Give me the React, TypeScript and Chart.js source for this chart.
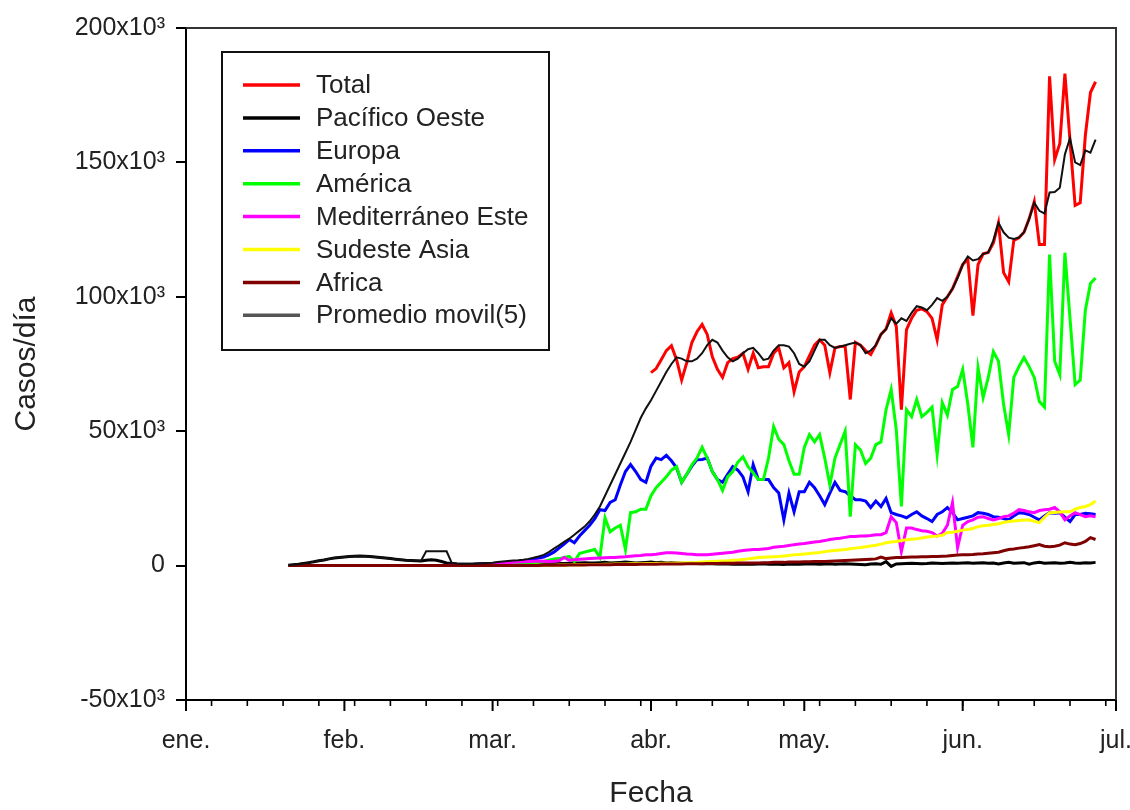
import { useEffect, useRef } from "react";
import { Chart, registerables } from "chart.js";

Chart.register(...registerables);

const FONT = "'Liberation Sans', Arial, Helvetica, sans-serif";

// Days counted from 1 ene. 2020 (day 0)
const START_DAY = 20; // 21 ene. 2020
const TOTAL_START_DAY = 91; // 1 abr. 2020

const monthLabels = ["ene.", "feb.", "mar.", "abr.", "may.", "jun.", "jul."];
const monthStartDays = [0, 31, 60, 91, 121, 152, 182];
const firstWeekTick = 5; // Monday 6 ene.
const yTickValues = [-50000, 0, 50000, 100000, 150000, 200000];

// Values in thousands of cases per day
const total = [
  71.8, 73.3, 76.6, 80, 81.8, 76.6, 69, 75.5, 83,
  87, 89.7, 86, 77.7, 73, 70, 75.5, 77, 77.5, 79,
  73, 79, 73.6, 74, 74, 79, 81, 73.6, 75.5, 64.7,
  72, 74, 78, 82, 84, 82, 71.8, 81, 81.5, 81.5,
  61.8, 83, 82, 80, 78.5, 82, 86, 88, 94, 89,
  58, 87.8, 92, 95, 95.5, 94.5, 92, 84, 97, 100,
  103, 107.5, 112, 114, 93, 112, 116, 116.5, 120, 127.5,
  109, 105.6, 121, 122, 124, 129, 135.4, 119.5, 119.5, 182,
  151, 157, 183, 158, 134, 135, 160, 176, 180,
];

const pacificoOeste = [
  0.1, 0.3, 0.5, 0.8, 1.1, 1.4, 1.8, 2.1, 2.5, 2.8,
  3.0, 3.2, 3.4, 3.5, 3.6, 3.5, 3.4, 3.2, 3.0, 2.8,
  2.6, 2.4, 2.2, 2.0, 1.9, 1.8, 1.7, 2.0, 2.2, 2.0,
  1.5, 1.0, 0.8, 0.6, 0.5, 0.5, 0.5, 0.6, 0.7, 0.8,
  0.8, 0.9, 0.8, 0.7, 0.6, 0.6, 0.5, 0.5, 0.5, 0.6,
  0.6, 0.7, 0.7, 0.8, 0.8, 0.9, 1.0, 1.0, 1.1, 1.0,
  1.0, 1.1, 1.2, 1.0, 1.1, 1.2, 1.3, 1.2, 1.0, 1.1,
  1.2, 1.3, 1.1, 1.2, 1.0, 1.1, 1.0, 0.9, 0.8, 0.9,
  0.8, 0.7, 0.8, 0.7, 0.6, 0.7, 0.6, 0.5, 0.6, 0.5,
  0.6, 0.5, 0.6, 0.7, 0.5, 0.6, 0.5, 0.4, 0.6, 0.5,
  0.5, 0.6, 0.7, 0.6, 0.5, 0.6, 0.7, 0.5, 0.6, 0.7,
  0.6, 0.5, 0.4, 0.3, 0.6, 0.7, 0.5, 1.5, -0.3, 0.6,
  0.7, 0.8, 0.9, 0.8, 0.7, 0.8, 1.0, 0.9, 0.8, 0.9,
  1.0, 0.9, 1.0, 1.1, 0.9, 1.0, 1.1, 0.9, 1.0, 0.6,
  1.0, 1.2, 0.9, 1.0, 1.1, 0.5, 1.0, 1.2, 0.9, 1.0,
  1.1, 0.9, 1.0, 1.2, 1.0, 0.9, 1.1, 1.0, 1.2,
];

const europa = [
  0, 0, 0, 0, 0, 0, 0, 0, 0, 0,
  0, 0, 0, 0, 0, 0, 0, 0, 0, 0,
  0, 0, 0, 0, 0, 0, 0, 0, 0, 0,
  0, 0.05, 0.1, 0.1, 0.2, 0.3, 0.4, 0.5, 0.6, 0.8,
  0.5, 0.6, 0.8, 1.0, 1.2, 1.4, 1.7, 2.0, 2.4, 2.8,
  3.2, 4.0, 5.0, 6.5, 8.0, 9.7, 8.5, 11, 13, 15,
  17.5, 20.8, 20.5, 23.5, 24.5, 30, 35, 37.6, 35, 32,
  31, 37, 40, 39.4, 41, 39, 36.4, 31, 34, 37,
  39.4, 39.5, 40, 35, 32, 31, 34, 36.8, 35.5, 33,
  27.5, 37.6, 32, 32, 32, 29, 27, 17, 27, 20,
  27.5, 27.5, 31, 29, 26, 22.7, 27, 31, 28, 27.5,
  26, 24.5, 24.5, 24, 21.6, 24, 22, 25, 19.7, 19,
  18.5, 17.8, 19, 20, 18.5, 17.5, 16.4, 19, 20, 21.6,
  19.7, 17, 17.5, 18, 18.5, 19.7, 19.5, 19, 18.2, 18,
  17.5, 17, 18.5, 19.7, 19.5, 19, 18, 17, 18.5, 19.7,
  19.5, 19.7, 18, 16.4, 19, 19, 19.5, 19.3, 19,
];

const america = [
  0, 0, 0, 0, 0, 0, 0, 0, 0, 0,
  0, 0, 0, 0, 0, 0, 0, 0, 0, 0,
  0, 0, 0, 0, 0, 0, 0, 0, 0, 0,
  0, 0, 0, 0, 0, 0.05, 0.05, 0.1, 0.1, 0.1,
  0.1, 0.2, 0.2, 0.3, 0.4, 0.5, 0.6, 0.8, 1.0, 1.2,
  1.5, 2.0, 2.5, 2.6, 3.0, 3.4, 1.5, 4.5, 5.0, 5.5,
  6.0, 3.0, 17.8, 12.6, 14, 15, 6, 19.7, 20, 21,
  21, 26, 29, 31, 33, 35.5, 36.8, 31, 34, 37.5,
  40, 44, 40, 35, 32, 28, 33, 35, 38.5, 40.5,
  36.8, 34.5, 32, 32, 40, 51.7, 47, 45, 39, 34,
  34, 44, 48.7, 46, 48.7, 40, 30, 40, 45, 50,
  18.2, 45, 43, 38, 40, 45, 46, 58, 65.5, 50.6,
  22, 58, 55.4, 61.8, 55.4, 57, 59, 41.3, 60.6, 56,
  65.5, 66.6, 73, 60, 44, 73.6, 62.5, 70, 79.6, 76,
  60, 48.7, 70, 74, 77.4, 74, 70, 61, 59, 115.7,
  76, 71, 116.4, 92, 67.3, 69, 95, 105, 107,
];

const mediterraneoEste = [
  0, 0, 0, 0, 0, 0, 0, 0, 0, 0,
  0, 0, 0, 0, 0, 0, 0, 0, 0, 0,
  0, 0, 0, 0, 0, 0, 0, 0, 0, 0,
  0, 0.05, 0.1, 0.15, 0.2, 0.25, 0.3, 0.4, 0.5, 0.6,
  0.8, 0.9, 1.0, 1.1, 1.2, 1.3, 1.4, 1.5, 1.6, 1.7,
  1.6, 1.5, 1.6, 1.8, 3.0, 2.0, 2.2, 2.4, 2.5, 2.6,
  2.7, 2.8, 2.9, 3.0, 3.0, 3.2, 3.3, 3.5, 3.7, 3.8,
  4.0, 4.0, 4.2, 4.5, 4.8, 4.8, 4.7, 4.5, 4.3, 4.2,
  4.0, 4.0, 4.0, 4.2, 4.4, 4.6, 4.8, 5.0, 5.3, 5.6,
  5.8, 6.0, 6.0, 6.2, 6.4, 6.8, 7.0, 7.2, 7.5, 7.8,
  8.0, 8.2, 8.5, 8.8, 9.0, 9.3, 9.7, 10.0, 10.2, 10.5,
  10.8, 10.8, 11.0, 11.0, 11.2, 11.5, 11.5, 12.3, 18.2, 16,
  5.2, 14, 14, 13.4, 13, 12.8, 12.3, 11, 12, 15,
  23.4, 6.7, 15, 16.4, 17, 18, 18.2, 17.5, 17, 17.5,
  18.2, 18.5, 19.5, 20.8, 20.5, 20, 19.7, 20.5, 20.8, 21,
  21.6, 20, 17, 18.5, 19.7, 19, 18.2, 18.5, 18.2,
];

const sudesteAsia = [
  0, 0, 0, 0, 0, 0, 0, 0, 0, 0,
  0, 0, 0, 0, 0, 0, 0, 0, 0, 0,
  0, 0, 0, 0, 0, 0, 0, 0, 0, 0,
  0, 0, 0, 0, 0, 0, 0, 0, 0, 0,
  0, 0, 0, 0, 0, 0, 0.05, 0.05, 0.1, 0.1,
  0.1, 0.15, 0.15, 0.2, 0.2, 0.25, 0.3, 0.3, 0.35, 0.4,
  0.4, 0.45, 0.5, 0.5, 0.55, 0.6, 0.6, 0.65, 0.7, 0.7,
  0.75, 0.8, 0.8, 0.85, 0.9, 0.9, 1.0, 1.0, 1.1, 1.1,
  1.2, 1.3, 1.4, 1.5, 1.6, 1.7, 1.8, 2.0, 2.1, 2.3,
  2.5, 2.7, 3.0, 3.1, 3.2, 3.3, 3.4, 3.6, 3.8, 4.0,
  4.1, 4.3, 4.5, 4.7, 4.9, 5.2, 5.4, 5.6, 5.8, 6.0,
  6.3, 6.5, 6.7, 7.0, 7.3, 7.6, 8.0, 8.5, 8.8, 9.0,
  9.3, 9.6, 9.8, 10.0, 10.3, 10.6, 10.8, 11.0, 11.3, 12.3,
  12.4, 12.8, 13.2, 13.4, 13.8, 14.5, 14.8, 15.0, 15.3, 15.6,
  16.0, 16.4, 16.6, 16.8, 17.0, 17.0, 16.5, 16.0, 18.0, 19.7,
  19.8, 19.9, 20.0, 20.0, 21.0, 21.6, 22.0, 22.7, 24.0,
];

const africa = [
  0, 0, 0, 0, 0, 0, 0, 0, 0, 0,
  0, 0, 0, 0, 0, 0, 0, 0, 0, 0,
  0, 0, 0, 0, 0, 0, 0, 0, 0, 0,
  0, 0, 0, 0, 0, 0, 0, 0, 0, 0,
  0, 0, 0, 0, 0, 0.02, 0.03, 0.05, 0.05, 0.08,
  0.1, 0.1, 0.12, 0.15, 0.15, 0.2, 0.2, 0.25, 0.25, 0.3,
  0.3, 0.3, 0.35, 0.35, 0.4, 0.4, 0.4, 0.45, 0.45, 0.5,
  0.5, 0.5, 0.5, 0.55, 0.55, 0.6, 0.6, 0.6, 0.65, 0.65,
  0.7, 0.7, 0.75, 0.8, 0.8, 0.85, 0.9, 0.9, 0.95, 1.0,
  1.0, 1.0, 1.0, 1.1, 1.1, 1.2, 1.2, 1.2, 1.3, 1.3,
  1.3, 1.4, 1.4, 1.5, 1.5, 1.5, 1.6, 1.7, 1.8, 1.9,
  2.0, 2.1, 2.2, 2.3, 2.4, 2.5, 3.2, 2.6, 2.8, 3.0,
  3.0, 3.1, 3.2, 3.2, 3.3, 3.3, 3.4, 3.4, 3.5, 3.6,
  3.8, 3.9, 4.0, 4.0, 4.1, 4.3, 4.4, 4.6, 4.8, 5.0,
  5.5, 6.0, 6.2, 6.5, 6.7, 7.0, 7.4, 7.8, 7.2, 7.0,
  7.2, 7.6, 8.5, 8.0, 7.8, 8.2, 9.0, 10.4, 9.7,
];

const promedioMovil = [
  0.1, 0.3, 0.5, 0.8, 1.1, 1.4, 1.8, 2.1, 2.5, 2.8,
  3.0, 3.2, 3.4, 3.5, 3.6, 3.5, 3.4, 3.2, 3.0, 2.8,
  2.6, 2.4, 2.2, 2.0, 1.9, 1.8, 1.8, 5.3, 5.3, 5.3,
  5.3, 5.3, 1.0, 0.8, 0.7, 0.7, 0.7, 0.8, 0.9, 1.0,
  1.1, 1.3, 1.5, 1.7, 1.9, 2.0, 2.2, 2.5, 2.9, 3.4,
  4.0, 5.0, 6.3, 7.5, 8.8, 10.0, 11.5, 13.0, 14.5, 16.5,
  19, 22, 26, 30, 34, 38, 42, 46, 50.5, 55,
  58.5, 61.5, 65, 68.5, 72, 75, 77.5, 77, 76, 76,
  77, 79, 82, 84, 83, 80, 77.5, 76, 77, 79,
  80.5, 81, 79, 76.5, 77, 80, 82, 82, 81.5, 79,
  75, 74, 76, 80, 84, 84, 82, 81, 81.5, 82,
  82.5, 83, 82, 79, 80, 82, 86, 88, 92, 90,
  92, 91, 94, 96.5, 96, 95, 97, 99.5, 98.5, 100,
  103, 107, 112, 115, 113.5, 114, 116, 116.5, 121, 127.5,
  124, 122, 121.5, 122, 124, 129, 135, 132, 131, 138.8,
  139, 140.6, 153, 159, 150, 149, 154.5, 153.6, 158.5,
];

type Series = { label: string; values: number[]; start: number; color: string; width: number; legendColor?: string };

const seriesList: Series[] = [
  { label: "Total", values: total, start: TOTAL_START_DAY, color: "#ff0000", width: 3 },
  { label: "Pacífico Oeste", values: pacificoOeste, start: START_DAY, color: "#000000", width: 3 },
  { label: "Europa", values: europa, start: START_DAY, color: "#0000ff", width: 3 },
  { label: "América", values: america, start: START_DAY, color: "#00ff00", width: 3 },
  { label: "Mediterráneo Este", values: mediterraneoEste, start: START_DAY, color: "#ff00ff", width: 3 },
  { label: "Sudeste Asia", values: sudesteAsia, start: START_DAY, color: "#ffff00", width: 3 },
  { label: "Africa", values: africa, start: START_DAY, color: "#800000", width: 3 },
  { label: "Promedio movil(5)", values: promedioMovil, start: START_DAY, color: "#111111", width: 2, legendColor: "#555555" },
];

const decorPlugin = {
  id: "decor",
  beforeDatasetsDraw(chart: any) {
    const { ctx, chartArea } = chart;
    const { left, right, top, bottom } = chartArea;
    ctx.save();
    ctx.strokeStyle = "#333";
    ctx.lineWidth = 2;
    ctx.beginPath();
    ctx.moveTo(left, top);
    ctx.lineTo(right, top);
    ctx.lineTo(right, bottom);
    ctx.stroke();
    ctx.restore();
  },
  afterDraw(chart: any) {
    const { ctx, chartArea, scales } = chart;
    const { left, top, bottom } = chartArea;
    const xs = scales.x;
    const ys = scales.y;
    ctx.save();
    ctx.strokeStyle = "#000";
    ctx.lineWidth = 2;
    ctx.beginPath();
    for (const v of yTickValues) {
      const py = Math.round(ys.getPixelForValue(v));
      ctx.moveTo(left - 10, py);
      ctx.lineTo(left, py);
    }
    for (const d of monthStartDays) {
      const px = xs.getPixelForValue(d);
      ctx.moveTo(px, bottom);
      ctx.lineTo(px, bottom + 11);
    }
    ctx.stroke();
    ctx.lineWidth = 1.6;
    ctx.beginPath();
    for (let d = firstWeekTick; d <= 182; d += 7) {
      const px = xs.getPixelForValue(d);
      ctx.moveTo(px, bottom);
      ctx.lineTo(px, bottom + 6);
    }
    ctx.stroke();

    // legend box
    const bx = left + 36;
    const by = top + 24;
    const bw = 327;
    const bh = 298;
    ctx.fillStyle = "#fff";
    ctx.fillRect(bx, by, bw, bh);
    ctx.strokeStyle = "#111";
    ctx.lineWidth = 2;
    ctx.strokeRect(bx, by, bw, bh);
    ctx.font = `26px ${FONT}`;
    ctx.textBaseline = "middle";
    ctx.textAlign = "left";
    seriesList.forEach((s, i) => {
      const ry = by + 33 + i * 32.9;
      ctx.strokeStyle = s.legendColor || s.color;
      ctx.lineWidth = 3.5;
      ctx.beginPath();
      ctx.moveTo(bx + 21, ry);
      ctx.lineTo(bx + 78, ry);
      ctx.stroke();
      ctx.fillStyle = "#222";
      ctx.fillText(s.label, bx + 94, ry + 1);
    });
    ctx.restore();
  },
};

export default function App() {
  const canvasRef = useRef<HTMLCanvasElement | null>(null);

  useEffect(() => {
    const canvas = canvasRef.current;
    if (!canvas) return;
    const n = seriesList.length;
    const datasets = seriesList.map((s, i) => ({
      label: s.label,
      data: s.values.map((v, k) => ({ x: s.start + k, y: v * 1000 })),
      borderColor: s.color,
      backgroundColor: s.color,
      borderWidth: s.width,
      pointRadius: 0,
      tension: 0,
      fill: false,
      order: n - i,
    }));

    const chart = new Chart(canvas, {
      type: "line",
      data: { datasets },
      plugins: [decorPlugin],
      options: {
        responsive: false,
        animation: false,
        devicePixelRatio: 1,
        layout: { autoPadding: false, padding: { top: 28, right: 14, left: 0, bottom: 0 } },
        plugins: { legend: { display: false }, tooltip: { enabled: false } },
        scales: {
          x: {
            type: "linear",
            min: 0,
            max: 182,
            afterBuildTicks: (scale: any) => {
              scale.ticks = monthStartDays.map((v) => ({ value: v }));
            },
            afterFit: (scale: any) => {
              scale.height = 110;
              scale.paddingLeft = 0;
              scale.paddingRight = 0;
            },
            ticks: {
              autoSkip: false,
              maxRotation: 0,
              padding: 26,
              color: "#222",
              font: { family: FONT, size: 25 },
              callback: (v: any) => {
                const idx = monthStartDays.indexOf(Number(v));
                return idx >= 0 ? monthLabels[idx] : "";
              },
            },
            grid: { display: false, drawTicks: false, tickLength: 0 },
            border: { display: true, color: "#000", width: 2 },
            title: {
              display: true,
              text: "Fecha",
              color: "#222",
              font: { family: FONT, size: 30 },
              padding: { top: 0, bottom: -2 },
            },
          },
          y: {
            type: "linear",
            min: -50000,
            max: 200000,
            afterBuildTicks: (scale: any) => {
              scale.ticks = yTickValues.map((v) => ({ value: v }));
            },
            afterFit: (scale: any) => {
              scale.width = 186;
              scale.paddingTop = 0;
              scale.paddingBottom = 0;
            },
            ticks: {
              padding: 21,
              color: "#222",
              font: { family: FONT, size: 25 },
              callback: (v: any) => (Number(v) === 0 ? "0" : `${Number(v) / 1000}x10³`),
            },
            grid: { display: false, drawTicks: false, tickLength: 0 },
            border: { display: true, color: "#000", width: 2 },
            title: {
              display: true,
              text: "Casos/día",
              color: "#222",
              font: { family: FONT, size: 30 },
              padding: { top: 9, bottom: 0 },
            },
          },
        },
      } as any,
    });
    return () => chart.destroy();
  }, []);

  return (
    <div style={{ position: "absolute", left: 0, top: 0, width: 1130, height: 810, background: "#fff" }}>
      <canvas ref={canvasRef} width={1130} height={810} style={{ display: "block" }} />
    </div>
  );
}
